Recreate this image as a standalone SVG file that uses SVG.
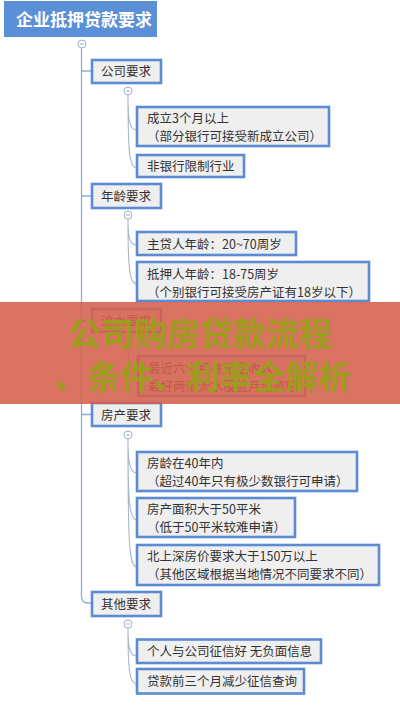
<svg xmlns="http://www.w3.org/2000/svg" width="400" height="708" viewBox="0 0 400 708">
<style>
.bx{fill:#efefef;stroke:#5b8bd2;stroke-width:2.6}
.t{font-family:"Noto Sans CJK SC","Liberation Sans",sans-serif;font-size:12.5px;fill:#333}
.rt{font-family:"Noto Sans CJK SC","Liberation Sans",sans-serif;font-size:17px;font-weight:bold;fill:#fff}
.trunk{fill:none;stroke:#8eacd8;stroke-width:1.3}
.cv{fill:none;stroke:#a8b8cc;stroke-width:1.1}
.cc{fill:#fff;stroke:#9cb0c8;stroke-width:1}
.mn{stroke:#9cb0c8;stroke-width:1}
.ov{font-family:"Noto Sans CJK SC","Liberation Sans",sans-serif;font-size:33px;font-weight:bold;fill:#9e9c1e;text-anchor:middle}
</style>
<rect width="400" height="708" fill="#fff"/>
<g id="connectors">
<path class="trunk" d="M81.5,48 V596 Q81.5,603 88,603 H91"/>
<path class="trunk" d="M81.5,71 H91 M81.5,196 H91 M81.5,320.5 H91 M81.5,414.5 H91"/>
<path class="cv" d="M128,95 C128,120 129,130 137,130 M128,95 C128,150 129,168 137,168"/>
<path class="cv" d="M128,219 C128,236 129,245 137,245 M128,219 C128,266 129,284 137,284"/>
<path class="cv" d="M128,344 C128,364 129,378 137,378"/>
<path class="cv" d="M128,439 C128,460 129,473 137,473 M128,439 C128,500 129,520 137,520 M128,439 C128,545 129,567 137,567"/>
<path class="cv" d="M128,628 C128,645 129,656 137,656 M128,628 C128,668 129,684 137,684"/>
<g id="toggles">
<circle class="cc" cx="82" cy="44" r="4"/><path class="mn" d="M80,44 H84"/>
<circle class="cc" cx="128" cy="91" r="4"/><path class="mn" d="M126,91 H130"/>
<circle class="cc" cx="128" cy="215" r="4"/><path class="mn" d="M126,215 H130"/>
<circle class="cc" cx="128" cy="340" r="4"/><path class="mn" d="M126,340 H130"/>
<circle class="cc" cx="128" cy="435" r="4"/><path class="mn" d="M126,435 H130"/>
<circle class="cc" cx="128" cy="624" r="4"/><path class="mn" d="M126,624 H130"/>
</g>
</g>
<g id="root">
<rect x="4" y="1" width="153" height="36" fill="#5b8fd6"/>
<text class="rt" x="16" y="26">企业抵押贷款要求</text>
</g>
<g id="n-company">
<rect class="bx" x="92" y="60" width="69" height="23"/>
<text class="t" x="101" y="76">公司要求</text>
</g>
<g id="n-company-1">
<rect class="bx" x="137" y="107" width="192" height="39"/>
<text class="t" x="147" y="123">成立3个月以上</text>
<text class="t" x="147" y="141">（部分银行可接受新成立公司）</text>
</g>
<g id="n-company-2">
<rect class="bx" x="137" y="155" width="107" height="22"/>
<text class="t" x="147" y="171">非银行限制行业</text>
</g>
<g id="n-age">
<rect class="bx" x="92" y="184" width="69" height="24"/>
<text class="t" x="101" y="201">年龄要求</text>
</g>
<g id="n-age-1">
<rect class="bx" x="137" y="232" width="159" height="23"/>
<text class="t" x="147" y="249">主贷人年龄：20~70周岁</text>
</g>
<g id="n-age-2">
<rect class="bx" x="137" y="262" width="232" height="39"/>
<text class="t" x="147" y="279">抵押人年龄：18-75周岁</text>
<text class="t" x="147" y="297">（个别银行可接受房产证有18岁以下）</text>
</g>
<g id="n-flow">
<rect class="bx" x="92" y="309" width="69" height="23"/>
<text class="t" x="101" y="326">流水要求</text>
</g>
<g id="n-flow-1">
<rect class="bx" x="138" y="356" width="167" height="40"/>
<text class="t" x="148" y="373">最近六个月有稳定收入</text>
<text class="t" x="148" y="391">最好两倍流水覆盖月还款额</text>
</g>
<g id="n-house">
<rect class="bx" x="92" y="403" width="69" height="23"/>
<text class="t" x="101" y="420">房产要求</text>
</g>
<g id="n-house-1">
<rect class="bx" x="137" y="452" width="220" height="39"/>
<text class="t" x="147" y="468">房龄在40年内</text>
<text class="t" x="147" y="486">（超过40年只有极少数银行可申请）</text>
</g>
<g id="n-house-2">
<rect class="bx" x="137" y="498" width="158" height="39"/>
<text class="t" x="147" y="514">房产面积大于50平米</text>
<text class="t" x="147" y="532">（低于50平米较难申请）</text>
</g>
<g id="n-house-3">
<rect class="bx" x="137" y="545" width="242" height="40"/>
<text class="t" x="147" y="561">北上深房价要求大于150万以上</text>
<text class="t" x="147" y="579">（其他区域根据当地情况不同要求不同）</text>
</g>
<g id="n-other">
<rect class="bx" x="92" y="592" width="69" height="24"/>
<text class="t" x="101" y="609">其他要求</text>
</g>
<g id="n-other-1">
<rect class="bx" x="137" y="639.5" width="184" height="23.5"/>
<text class="t" x="147" y="656">个人与公司征信好 无负面信息</text>
</g>
<g id="n-other-2">
<rect class="bx" x="137" y="669" width="167" height="24.5"/>
<text class="t" x="147" y="686">贷款前三个月减少征信查询</text>
</g>
<g id="overlay">
<rect x="0" y="302" width="400" height="102" fill="#d5604c" fill-opacity="0.88"/>
<text class="ov" x="200" y="346">公司购房贷款流程</text>
<text class="ov" x="203" y="389">、条件、利率全解析</text>
</g>
</svg>
